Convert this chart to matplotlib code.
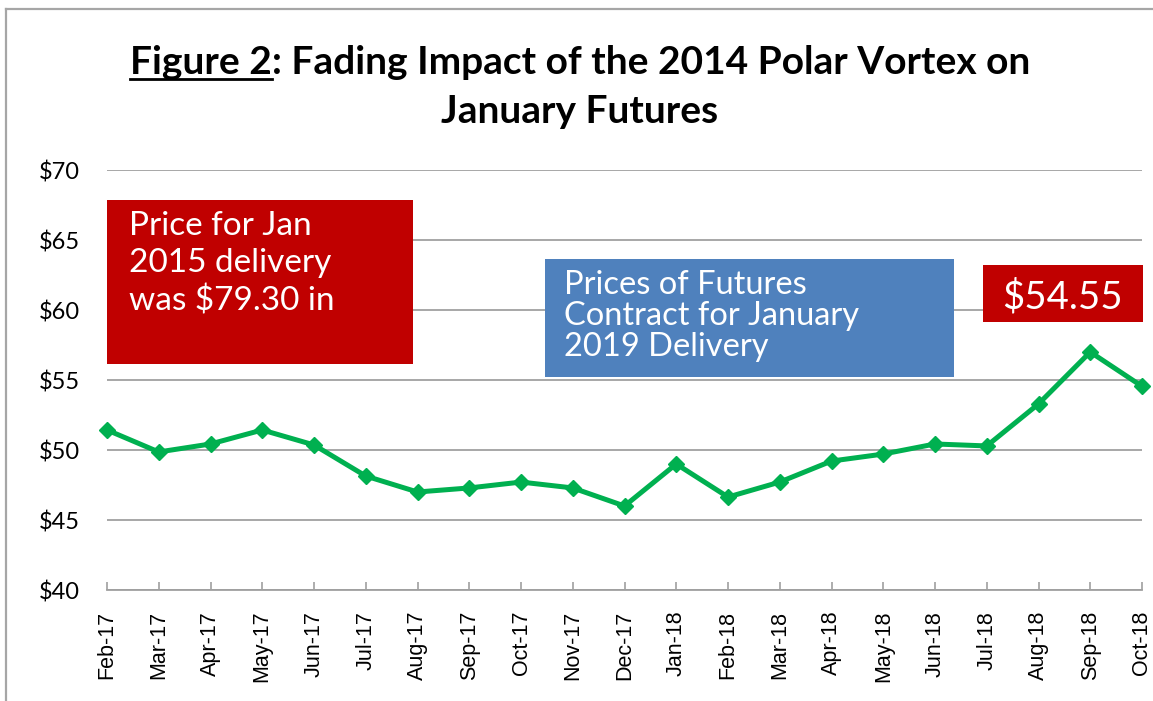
import matplotlib
matplotlib.use("Agg")
import matplotlib.pyplot as plt
from matplotlib.patches import Rectangle
from matplotlib.lines import Line2D

months = ["Feb-17", "Mar-17", "Apr-17", "May-17", "Jun-17", "Jul-17", "Aug-17",
          "Sep-17", "Oct-17", "Nov-17", "Dec-17", "Jan-18", "Feb-18", "Mar-18",
          "Apr-18", "May-18", "Jun-18", "Jul-18", "Aug-18", "Sep-18", "Oct-18"]
prices = [51.43, 49.86, 50.43, 51.43, 50.36, 48.14, 47.0, 47.29, 47.71, 47.29,
          46.0, 49.0, 46.64, 47.71, 49.21, 49.71, 50.43, 50.29, 53.29, 57.0, 54.55]
yticks = [40, 45, 50, 55, 60, 65, 70]
ytick_labels = ["$40", "$45", "$50", "$55", "$60", "$65", "$70"]

W, H = 1153, 701
FONT = "Lato"
fig = plt.figure(figsize=(W / 100, H / 100), dpi=100)

def fx(px):
    return px / W

def fy(py):
    return 1 - py / H

ax = fig.add_axes([fx(107), fy(590), fx(1142) - fx(107), fy(170) - fy(590)])
x = list(range(len(months)))
ax.plot(x, prices, color="#00B050", lw=3.6, marker="D", ms=8.5,
        mec="#00B050", mfc="#00B050", zorder=3, clip_on=False)
ax.set_xlim(0, len(months) - 1)
ax.set_ylim(40, 70)
ax.set_yticks(yticks)
ax.set_yticklabels(ytick_labels, fontsize=17, family=FONT, color="#000000")
ax.set_xticks(x)
ax.set_xticklabels(months, rotation=90, fontsize=15.5, family="Liberation Sans",
                   color="#000000")
ax.tick_params(axis="y", length=0, pad=19.5)
ax.tick_params(axis="x", direction="in", length=6, width=1.2, color="#A0A0A0", pad=15)
ax.grid(axis="y", color="#A0A0A0", lw=1.3)
ax.set_axisbelow(True)
for s in ["left", "right", "top"]:
    ax.spines[s].set_visible(False)
ax.spines["bottom"].set_color("#A0A0A0")
ax.spines["bottom"].set_linewidth(1.3)

# frame around figure
fig.add_artist(Line2D([fx(6), fx(6)], [fy(9), 0], color="#A6A6A6", lw=1.6))
fig.add_artist(Line2D([fx(6), 1], [fy(9), fy(9)], color="#A6A6A6", lw=1.6))

# title
title_fs = 28
renderer = fig.canvas.get_renderer()
part1 = "Figure 2"
part2 = ": Fading Impact of the 2014 Polar Vortex on"
t1 = fig.text(0, 0, part1, fontsize=title_fs, weight="bold", family=FONT)
t2 = fig.text(0, 0, part2, fontsize=title_fs, weight="bold", family=FONT)
w1 = t1.get_window_extent(renderer).width
w2 = t2.get_window_extent(renderer).width
total = w1 + w2
cx = 580
start = cx - total / 2
base_y = 74
t1.set_position((fx(start), fy(base_y)))
t2.set_position((fx(start + w1), fy(base_y)))
t1.set_va("baseline")
t2.set_va("baseline")
fig.add_artist(Line2D([fx(start), fx(start + w1)], [fy(base_y + 5), fy(base_y + 5)],
                      color="black", lw=2))
fig.text(fx(cx), fy(123), "January Futures", fontsize=title_fs, weight="bold",
         family=FONT, ha="center", va="baseline")

# annotation boxes
def box(x0, y0, x1, y1, color):
    fig.add_artist(Rectangle((fx(x0), fy(y1)), fx(x1) - fx(x0), fy(y0) - fy(y1),
                             transform=fig.transFigure, facecolor=color,
                             edgecolor="none", zorder=5))

box(107, 200, 413, 364, "#C00000")
fig.text(fx(129), fy(211), "Price for Jan\n2015 delivery\nwas $79.30 in",
         color="white", fontsize=24, family=FONT, va="top", ha="left",
         linespacing=1.3, zorder=6)

box(545, 259, 954, 377, "#4F81BD")
fig.text(fx(564), fy(270), "Prices of Futures\nContract for January\n2019 Delivery",
         color="white", fontsize=23.5, family=FONT, va="top", ha="left",
         linespacing=1.04, zorder=6)

box(983, 265, 1143, 322, "#C00000")
fig.text(fx(1062), fy(297), "$54.55", color="white", fontsize=27.5, family=FONT,
         va="center", ha="center", zorder=6)

fig.savefig("out.png", dpi=100, facecolor="white")
